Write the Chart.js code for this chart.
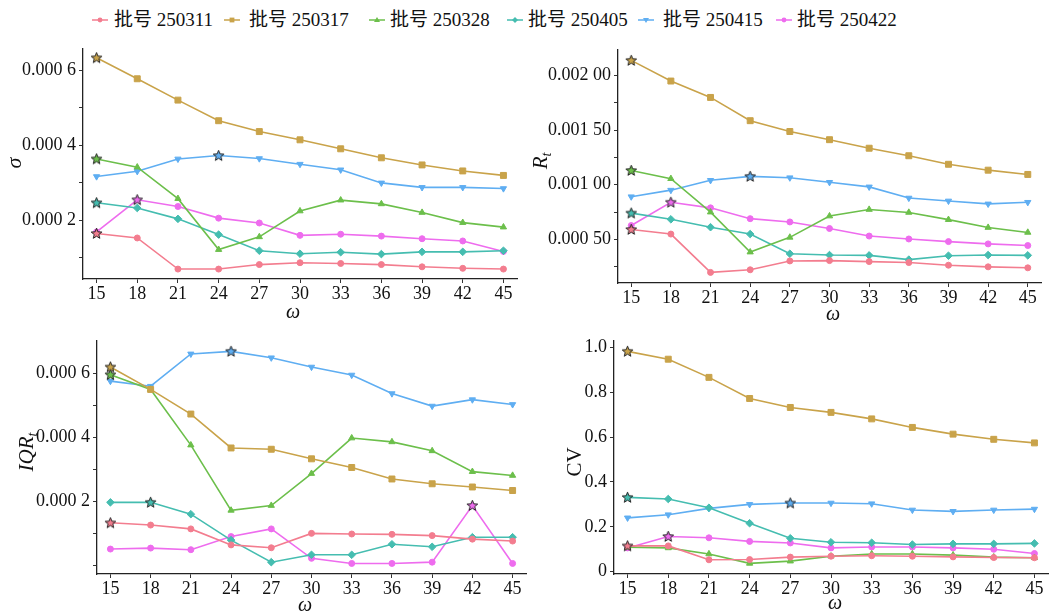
<!DOCTYPE html>
<html><head><meta charset="utf-8">
<script src="https://cdn.jsdelivr.net/npm/chart.js@4.4.1/dist/chart.umd.min.js"></script>
<style>
html,body{margin:0;padding:0;background:#fff;width:1056px;height:613px;overflow:hidden;position:relative;font-family:"Liberation Serif","Noto Sans CJK SC",serif;}
canvas.panel{position:absolute;}
.lgi{position:absolute;top:0;}
.lgt{position:absolute;top:8px;height:24px;line-height:24px;font-size:19px;color:#111;white-space:nowrap;font-family:"Liberation Serif","Noto Sans CJK SC",serif;}
</style></head><body>
<div id="legend"></div>
<canvas id="c1" class="panel"></canvas>
<canvas id="c2" class="panel"></canvas>
<canvas id="c3" class="panel"></canvas>
<canvas id="c4" class="panel"></canvas>
<script>
// ---------- data ----------
const omega = [15, 18, 21, 24, 27, 30, 33, 36, 39, 42, 45];
const batchNames = ['批号 250311', '批号 250317', '批号 250328', '批号 250405', '批号 250415', '批号 250422'];

// sigma
const sigma250311 = [0.000165, 0.000153, 0.000070, 0.000070, 0.000082, 0.000087, 0.000085, 0.000082, 0.000076, 0.000072, 0.000070];
const sigma250317 = [0.000634, 0.000578, 0.000521, 0.000466, 0.000437, 0.000415, 0.000391, 0.000367, 0.000348, 0.000332, 0.000320];
const sigma250328 = [0.000364, 0.000342, 0.000258, 0.000122, 0.000156, 0.000225, 0.000254, 0.000244, 0.000221, 0.000194, 0.000182];
const sigma250405 = [0.000247, 0.000233, 0.000204, 0.000162, 0.000119, 0.000111, 0.000115, 0.000110, 0.000116, 0.000116, 0.000119];
const sigma250415 = [0.000317, 0.000331, 0.000364, 0.000373, 0.000365, 0.000350, 0.000335, 0.000300, 0.000288, 0.000288, 0.000285];
const sigma250422 = [0.000169, 0.000255, 0.000237, 0.000206, 0.000193, 0.000160, 0.000163, 0.000158, 0.000151, 0.000145, 0.000117];

// R_t
const rt250311 = [0.000590, 0.000548, 0.000197, 0.000221, 0.000302, 0.000305, 0.000296, 0.000287, 0.000263, 0.000248, 0.000239];
const rt250317 = [0.002138, 0.001949, 0.001799, 0.001586, 0.001487, 0.001412, 0.001334, 0.001265, 0.001187, 0.001133, 0.001094];
const rt250328 = [0.001130, 0.001055, 0.000749, 0.000383, 0.000518, 0.000713, 0.000773, 0.000746, 0.000680, 0.000608, 0.000563];
const rt250405 = [0.000740, 0.000683, 0.000611, 0.000548, 0.000368, 0.000356, 0.000353, 0.000314, 0.000350, 0.000356, 0.000353];
const rt250415 = [0.000890, 0.000950, 0.001040, 0.001076, 0.001064, 0.001022, 0.000980, 0.000878, 0.000851, 0.000824, 0.000839];
const rt250422 = [0.000626, 0.000839, 0.000788, 0.000689, 0.000659, 0.000599, 0.000530, 0.000503, 0.000479, 0.000458, 0.000443];

// IQR_t
const iqr250311 = [0.000133, 0.000126, 0.000114, 0.000064, 0.000055, 0.000100, 0.000098, 0.000097, 0.000093, 0.000082, 0.000076];
const iqr250317 = [0.000620, 0.000550, 0.000473, 0.000367, 0.000363, 0.000333, 0.000306, 0.000270, 0.000255, 0.000245, 0.000234];
const iqr250328 = [0.000596, 0.000550, 0.000376, 0.000172, 0.000187, 0.000287, 0.000398, 0.000386, 0.000358, 0.000293, 0.000281];
const iqr250405 = [0.000197, 0.000197, 0.000160, 0.000079, 0.000010, 0.000033, 0.000033, 0.000066, 0.000058, 0.000088, 0.000088];
const iqr250415 = [0.000576, 0.000560, 0.000661, 0.000669, 0.000649, 0.000620, 0.000595, 0.000537, 0.000498, 0.000518, 0.000503];
const iqr250422 = [0.000051, 0.000054, 0.000049, 0.000090, 0.000114, 0.000022, 0.000006, 0.000006, 0.000010, 0.000187, 0.000006];

// CV
const cv250311 = [0.115, 0.115, 0.053, 0.054, 0.065, 0.069, 0.071, 0.069, 0.066, 0.063, 0.062];
const cv250317 = [0.982, 0.947, 0.866, 0.772, 0.732, 0.710, 0.681, 0.643, 0.613, 0.590, 0.574];
const cv250328 = [0.109, 0.106, 0.079, 0.037, 0.047, 0.069, 0.079, 0.079, 0.074, 0.065, 0.062];
const cv250405 = [0.331, 0.324, 0.285, 0.216, 0.149, 0.131, 0.129, 0.121, 0.124, 0.124, 0.126];
const cv250415 = [0.240, 0.254, 0.282, 0.300, 0.306, 0.306, 0.303, 0.275, 0.269, 0.275, 0.279];
const cv250422 = [0.106, 0.157, 0.151, 0.135, 0.128, 0.106, 0.110, 0.110, 0.106, 0.100, 0.081];

// index of the starred (maximum) point per batch, in batch order
const starSigma = [0, 0, 0, 0, 3, 1];
const starRt    = [0, 0, 0, 0, 3, 1];
const starIqr   = [0, 0, 0, 1, 3, 9];
const starCv    = [0, 0, -1, 0, 4, 1];

// tick values and labels
const sigmaTicks  = [0.0001, 0.0002, 0.0003, 0.0004, 0.0005, 0.0006];
const sigmaLabels = ['', '0.000 2', '', '0.000 4', '', '0.000 6'];
const rtTicks  = [0.00025, 0.0005, 0.00075, 0.001, 0.00125, 0.0015, 0.00175, 0.002];
const rtLabels = ['', '0.000 50', '', '0.001 00', '', '0.001 50', '', '0.002 00'];
const iqrTicks  = [0, 0.0001, 0.0002, 0.0003, 0.0004, 0.0005, 0.0006];
const iqrLabels = ['', '', '0.000 2', '', '0.000 4', '', '0.000 6'];
const cvTicks  = [0, 0.2, 0.4, 0.6, 0.8, 1.0];
const cvLabels = ['0', '0.2', '0.4', '0.6', '0.8', '1.0'];

// ---------- styles ----------
const colors = ['#F37D8F', '#C9A34A', '#6CBF4B', '#45BDB0', '#5FAEF2', '#EE6CEE'];
const shapes = ['circle', 'rect', 'triangle', 'rectRot', 'triangle', 'circle'];
const rotations = [0, 0, 0, 0, 180, 0];
const radii = [3, 4.2, 3.6, 3.8, 3.6, 3];

function makeStar(color) {
  const c = document.createElement('canvas');
  c.width = 13; c.height = 13;
  const g = c.getContext('2d');
  g.beginPath();
  for (let k = 0; k < 10; k++) {
    const r = k % 2 === 0 ? 5.6 : 2.4;
    const a = -Math.PI / 2 + k * Math.PI / 5;
    const px = 6.5 + r * Math.cos(a), py = 6.8 + r * Math.sin(a);
    if (k === 0) g.moveTo(px, py); else g.lineTo(px, py);
  }
  g.closePath();
  g.fillStyle = color; g.fill();
  g.strokeStyle = '#222'; g.lineWidth = 1; g.stroke();
  return c;
}
const starImgs = colors.map(makeStar);

// ---------- legend ----------
const legendIconX = [100, 232, 377, 515, 646, 784];
const legendTextX = [114, 249, 390, 528, 663, 797];
const lg = document.getElementById('legend');
batchNames.forEach((name, i) => {
  const ic = document.createElement('canvas');
  ic.width = 20; ic.height = 12; ic.className = 'lgi';
  ic.style.left = (legendIconX[i] - 10) + 'px'; ic.style.top = '14px';
  const g = ic.getContext('2d');
  g.strokeStyle = colors[i]; g.lineWidth = 1.5;
  g.beginPath(); g.moveTo(2, 6); g.lineTo(18, 6); g.stroke();
  g.fillStyle = colors[i];
  g.beginPath();
  const s = shapes[i];
  if (s === 'circle') g.arc(10, 6, 2.4, 0, Math.PI * 2);
  else if (s === 'rect') g.rect(7.6, 3.6, 4.8, 4.8);
  else if (s === 'rectRot') { g.moveTo(10, 3); g.lineTo(13, 6); g.lineTo(10, 9); g.lineTo(7, 6); }
  else if (rotations[i] === 180) { g.moveTo(7, 4); g.lineTo(13, 4); g.lineTo(10, 9); }
  else { g.moveTo(10, 3); g.lineTo(13, 8); g.lineTo(7, 8); }
  g.closePath(); g.fill();
  lg.appendChild(ic);
  const t = document.createElement('div');
  t.className = 'lgt'; t.textContent = name;
  t.style.left = legendTextX[i] + 'px';
  lg.appendChild(t);
});

// ---------- panels ----------
const YW = 95, PT = 12, PR = 10, XH = 44;

function titlePlugin(spec, off) {
  return {
    id: 'axisTitles',
    afterDraw(chart) {
      const ctx = chart.ctx;
      ctx.save();
      ctx.fillStyle = '#111';
      // y title rotated
      ctx.translate(spec.yx - off.x, spec.yy - off.y);
      ctx.rotate(-Math.PI / 2);
      ctx.textBaseline = 'middle';
      ctx.textAlign = 'left';
      const mainFont = (spec.italic ? 'italic ' : '') + spec.size + 'px "Liberation Serif"';
      const subFont = 'italic ' + Math.round(spec.size * 0.68) + 'px "Liberation Serif"';
      ctx.font = mainFont;
      const w1 = ctx.measureText(spec.main).width;
      let w2 = 0;
      if (spec.sub) { ctx.font = subFont; w2 = ctx.measureText(spec.sub).width; }
      const x0 = -(w1 + w2) / 2;
      ctx.font = mainFont;
      ctx.fillText(spec.main, x0, 0);
      if (spec.sub) { ctx.font = subFont; ctx.fillText(spec.sub, x0 + w1, spec.size * 0.3); }
      ctx.restore();
      // x title
      ctx.save();
      ctx.fillStyle = '#111';
      ctx.font = 'italic 20px "Liberation Serif"';
      ctx.textAlign = 'center';
      ctx.textBaseline = 'middle';
      ctx.fillText('ω', spec.wx - off.x, spec.wy - off.y);
      ctx.restore();
    }
  };
}

function makePanel(id, box, seriesList, stars, yMin, yMax, yTicks, yLabels, spec) {
  const cv = document.getElementById(id);
  const left = box.L - YW, top = box.T - PT;
  const w = box.R - box.L + YW + PR, h = box.B - box.T + PT + XH;
  cv.width = w; cv.height = h;
  cv.style.left = left + 'px'; cv.style.top = top + 'px';
  cv.style.width = w + 'px'; cv.style.height = h + 'px';
  const datasets = seriesList.map((arr, i) => ({
    label: batchNames[i],
    data: omega.map((x, j) => ({ x: x, y: arr[j] })),
    borderColor: colors[i],
    backgroundColor: colors[i],
    borderWidth: 1.6,
    pointBorderColor: colors[i],
    pointBackgroundColor: colors[i],
    pointBorderWidth: 1,
    pointRadius: radii[i],
    pointStyle: c => (c.dataIndex === stars[i] ? starImgs[i] : shapes[i]),
    pointRotation: c => (c.dataIndex === stars[i] ? 0 : rotations[i]),
    tension: 0,
    fill: false
  }));
  const tickFont = { family: 'Liberation Serif', size: 18 };
  return new Chart(cv, {
    type: 'line',
    data: { datasets },
    options: {
      responsive: false, animation: false, devicePixelRatio: 1,
      layout: { padding: { left: 0, top: PT, right: PR, bottom: 0 } },
      plugins: { legend: { display: false }, tooltip: { enabled: false } },
      scales: {
        x: {
          type: 'linear', min: 14, max: 46,
          afterBuildTicks: s => { s.ticks = omega.map(v => ({ value: v })); },
          afterFit: s => { s.height = XH; },
          grid: { display: true, drawOnChartArea: false, drawTicks: true, tickLength: 4, color: '#333', lineWidth: 1 },
          border: { display: true, color: '#222', width: 1.3 },
          ticks: { font: tickFont, color: '#111', padding: 0, maxRotation: 0, autoSkip: false, callback: v => String(v) }
        },
        y: {
          type: 'linear', min: yMin, max: yMax,
          afterBuildTicks: s => { s.ticks = yTicks.map(v => ({ value: v })); },
          afterFit: s => { s.width = YW; },
          grid: { display: true, drawOnChartArea: false, drawTicks: true, tickLength: 4, color: '#333', lineWidth: 1 },
          border: { display: true, color: '#222', width: 1.3 },
          ticks: { font: tickFont, color: '#111', padding: 3, autoSkip: false, callback: (v, i) => yLabels[i] }
        }
      }
    },
    plugins: [titlePlugin(spec, { x: left, y: top })]
  });
}

makePanel('c1', { L: 83, T: 47, R: 517, B: 279 },
  [sigma250311, sigma250317, sigma250328, sigma250405, sigma250415, sigma250422], starSigma,
  0.0000435, 0.000658, sigmaTicks, sigmaLabels,
  { main: 'σ', sub: '', italic: true, size: 22, yx: 15, yy: 163, wx: 293, wy: 313 });

makePanel('c2', { L: 618, T: 48, R: 1041, B: 283 },
  [rt250311, rt250317, rt250328, rt250405, rt250415, rt250422], starRt,
  0.0001, 0.002235, rtTicks, rtLabels,
  { main: 'R', sub: 't', italic: true, size: 21, yx: 541, yy: 161, wx: 833, wy: 315 });

makePanel('c3', { L: 97, T: 339, R: 526, B: 574 },
  [iqr250311, iqr250317, iqr250328, iqr250405, iqr250415, iqr250422], starIqr,
  -0.000027, 0.000702, iqrTicks, iqrLabels,
  { main: 'IQR', sub: 't', italic: true, size: 21, yx: 27, yy: 452, wx: 305, wy: 606 });

makePanel('c4', { L: 614, T: 339, R: 1048, B: 574 },
  [cv250311, cv250317, cv250328, cv250405, cv250415, cv250422], starCv,
  -0.0103, 1.029, cvTicks, cvLabels,
  { main: 'CV', sub: '', italic: false, size: 21, yx: 575, yy: 462, wx: 835, wy: 604 });
</script>
</body></html>
